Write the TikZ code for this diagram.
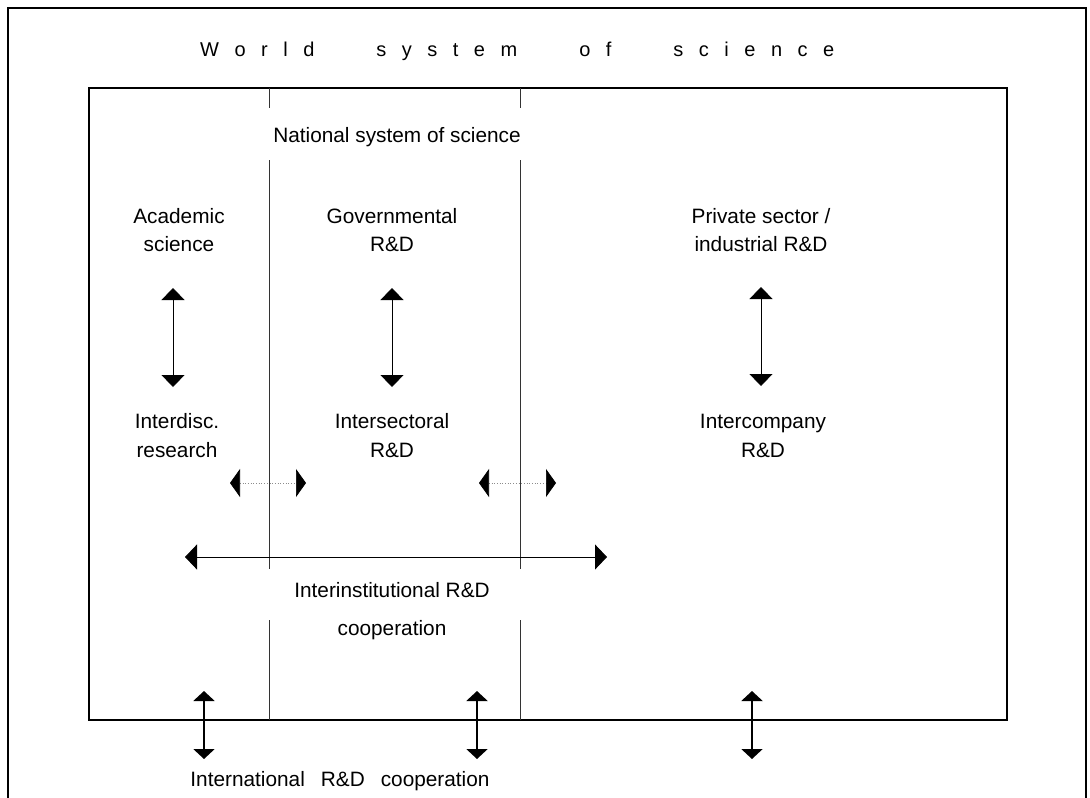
\documentclass[tikz,border=0pt]{standalone}
\usepackage{fontspec}
\setmainfont{Liberation Sans}
\usetikzlibrary{arrows.meta}
\newcommand\gapA{\hspace{15.5pt}}
\newcommand\gapB{\hspace{62pt}}
\begin{document}
\begin{tikzpicture}[x=1pt,y=-1pt,
  lbl/.style={font=\fontsize{20.8}{28.5}\selectfont, align=center, inner sep=0pt},
  frame/.style={line width=2pt, black},
  innerbox/.style={line width=2.6pt, black},
  sep/.style={line width=0.8pt, black!80},
  varrow/.style={line width=0.8pt, {Triangle[width=23pt,length=12pt]}-{Triangle[width=23pt,length=12pt]}},
  darrow/.style={line width=0.7pt, dotted, black!45, {Triangle[width=28pt,length=10pt,color=black]}-{Triangle[width=28pt,length=10pt,color=black]}},
  larrow/.style={line width=0.9pt, {Triangle[width=25pt,length=12pt]}-{Triangle[width=25pt,length=12pt]}},
  barrow/.style={line width=2.2pt, {Triangle[width=21pt,length=10pt]}-{Triangle[width=21pt,length=10pt]}}
]
\useasboundingbox (0,0) rectangle (1090,798);

% outer frame (open at bottom)
\draw[frame] (8,800) -- (8,8) -- (1086,8) -- (1086,800);
% inner box
\draw[innerbox] (89,88) rectangle (1007,720);

% separators
\foreach \sx in {269,520}{
  \draw[sep] (\sx,88) -- (\sx,108);
  \draw[sep] (\sx,160) -- (\sx,569);
  \draw[sep] (\sx,620) -- (\sx,720);
}

% texts
\node[anchor=base west, inner sep=0pt, font=\fontsize{20}{24}\selectfont] (title) at (200,56)
  {W\gapA o\gapA r\gapA l\gapA d\gapB s\gapA y\gapA s\gapA t\gapA e\gapA m\gapB o\gapA f\gapB s\gapA c\gapA i\gapA e\gapA n\gapA c\gapA e};
\node[lbl] (national) at (397,136.3) {National system of science\strut};
\node[lbl] (acad) at (179,231.8) {Academic\strut\\science\strut};
\node[lbl] (gov) at (392,231.8) {Governmental\strut\\R\&D\strut};
\node[lbl] (priv) at (761,231.8) {Private sector /\strut\\industrial R\&D\strut};
\node[lbl] (interd) at (177,437.3) {Interdisc.\strut\\research\strut};
\node[lbl] (inters) at (392,437.3) {Intersectoral\strut\\R\&D\strut};
\node[lbl] (interc) at (763,437.3) {Intercompany\strut\\R\&D\strut};
\node[lbl] (interinst) at (392,610.3) {Interinstitutional R\&D\strut\\[9.5pt]cooperation\strut};
\node[lbl] (intl) at (340,780.3) {International\hspace{16pt}R\&D\hspace{16pt}cooperation\strut};

% arrow end coordinates
\coordinate (a1t) at (173,288); \coordinate (a1b) at (173,387);
\coordinate (a2t) at (392,288); \coordinate (a2b) at (392,387);
\coordinate (a3t) at (761,287); \coordinate (a3b) at (761,386);
\coordinate (d1l) at (230,483); \coordinate (d1r) at (306,483);
\coordinate (d2l) at (479,483); \coordinate (d2r) at (556,483);
\coordinate (ll) at (185,557); \coordinate (lr) at (607,557);
\coordinate (b1t) at (204,691); \coordinate (b1b) at (204,759);
\coordinate (b2t) at (477,691); \coordinate (b2b) at (477,759);
\coordinate (b3t) at (752,691); \coordinate (b3b) at (752,759);

\draw[varrow] (a1t) -- (a1b);
\draw[varrow] (a2t) -- (a2b);
\draw[varrow] (a3t) -- (a3b);
\draw[darrow] (d1l) -- (d1r);
\draw[darrow] (d2l) -- (d2r);
\draw[larrow] (ll) -- (lr);
\draw[barrow] (b1t) -- (b1b);
\draw[barrow] (b2t) -- (b2b);
\draw[barrow] (b3t) -- (b3b);
\end{tikzpicture}
\end{document}
